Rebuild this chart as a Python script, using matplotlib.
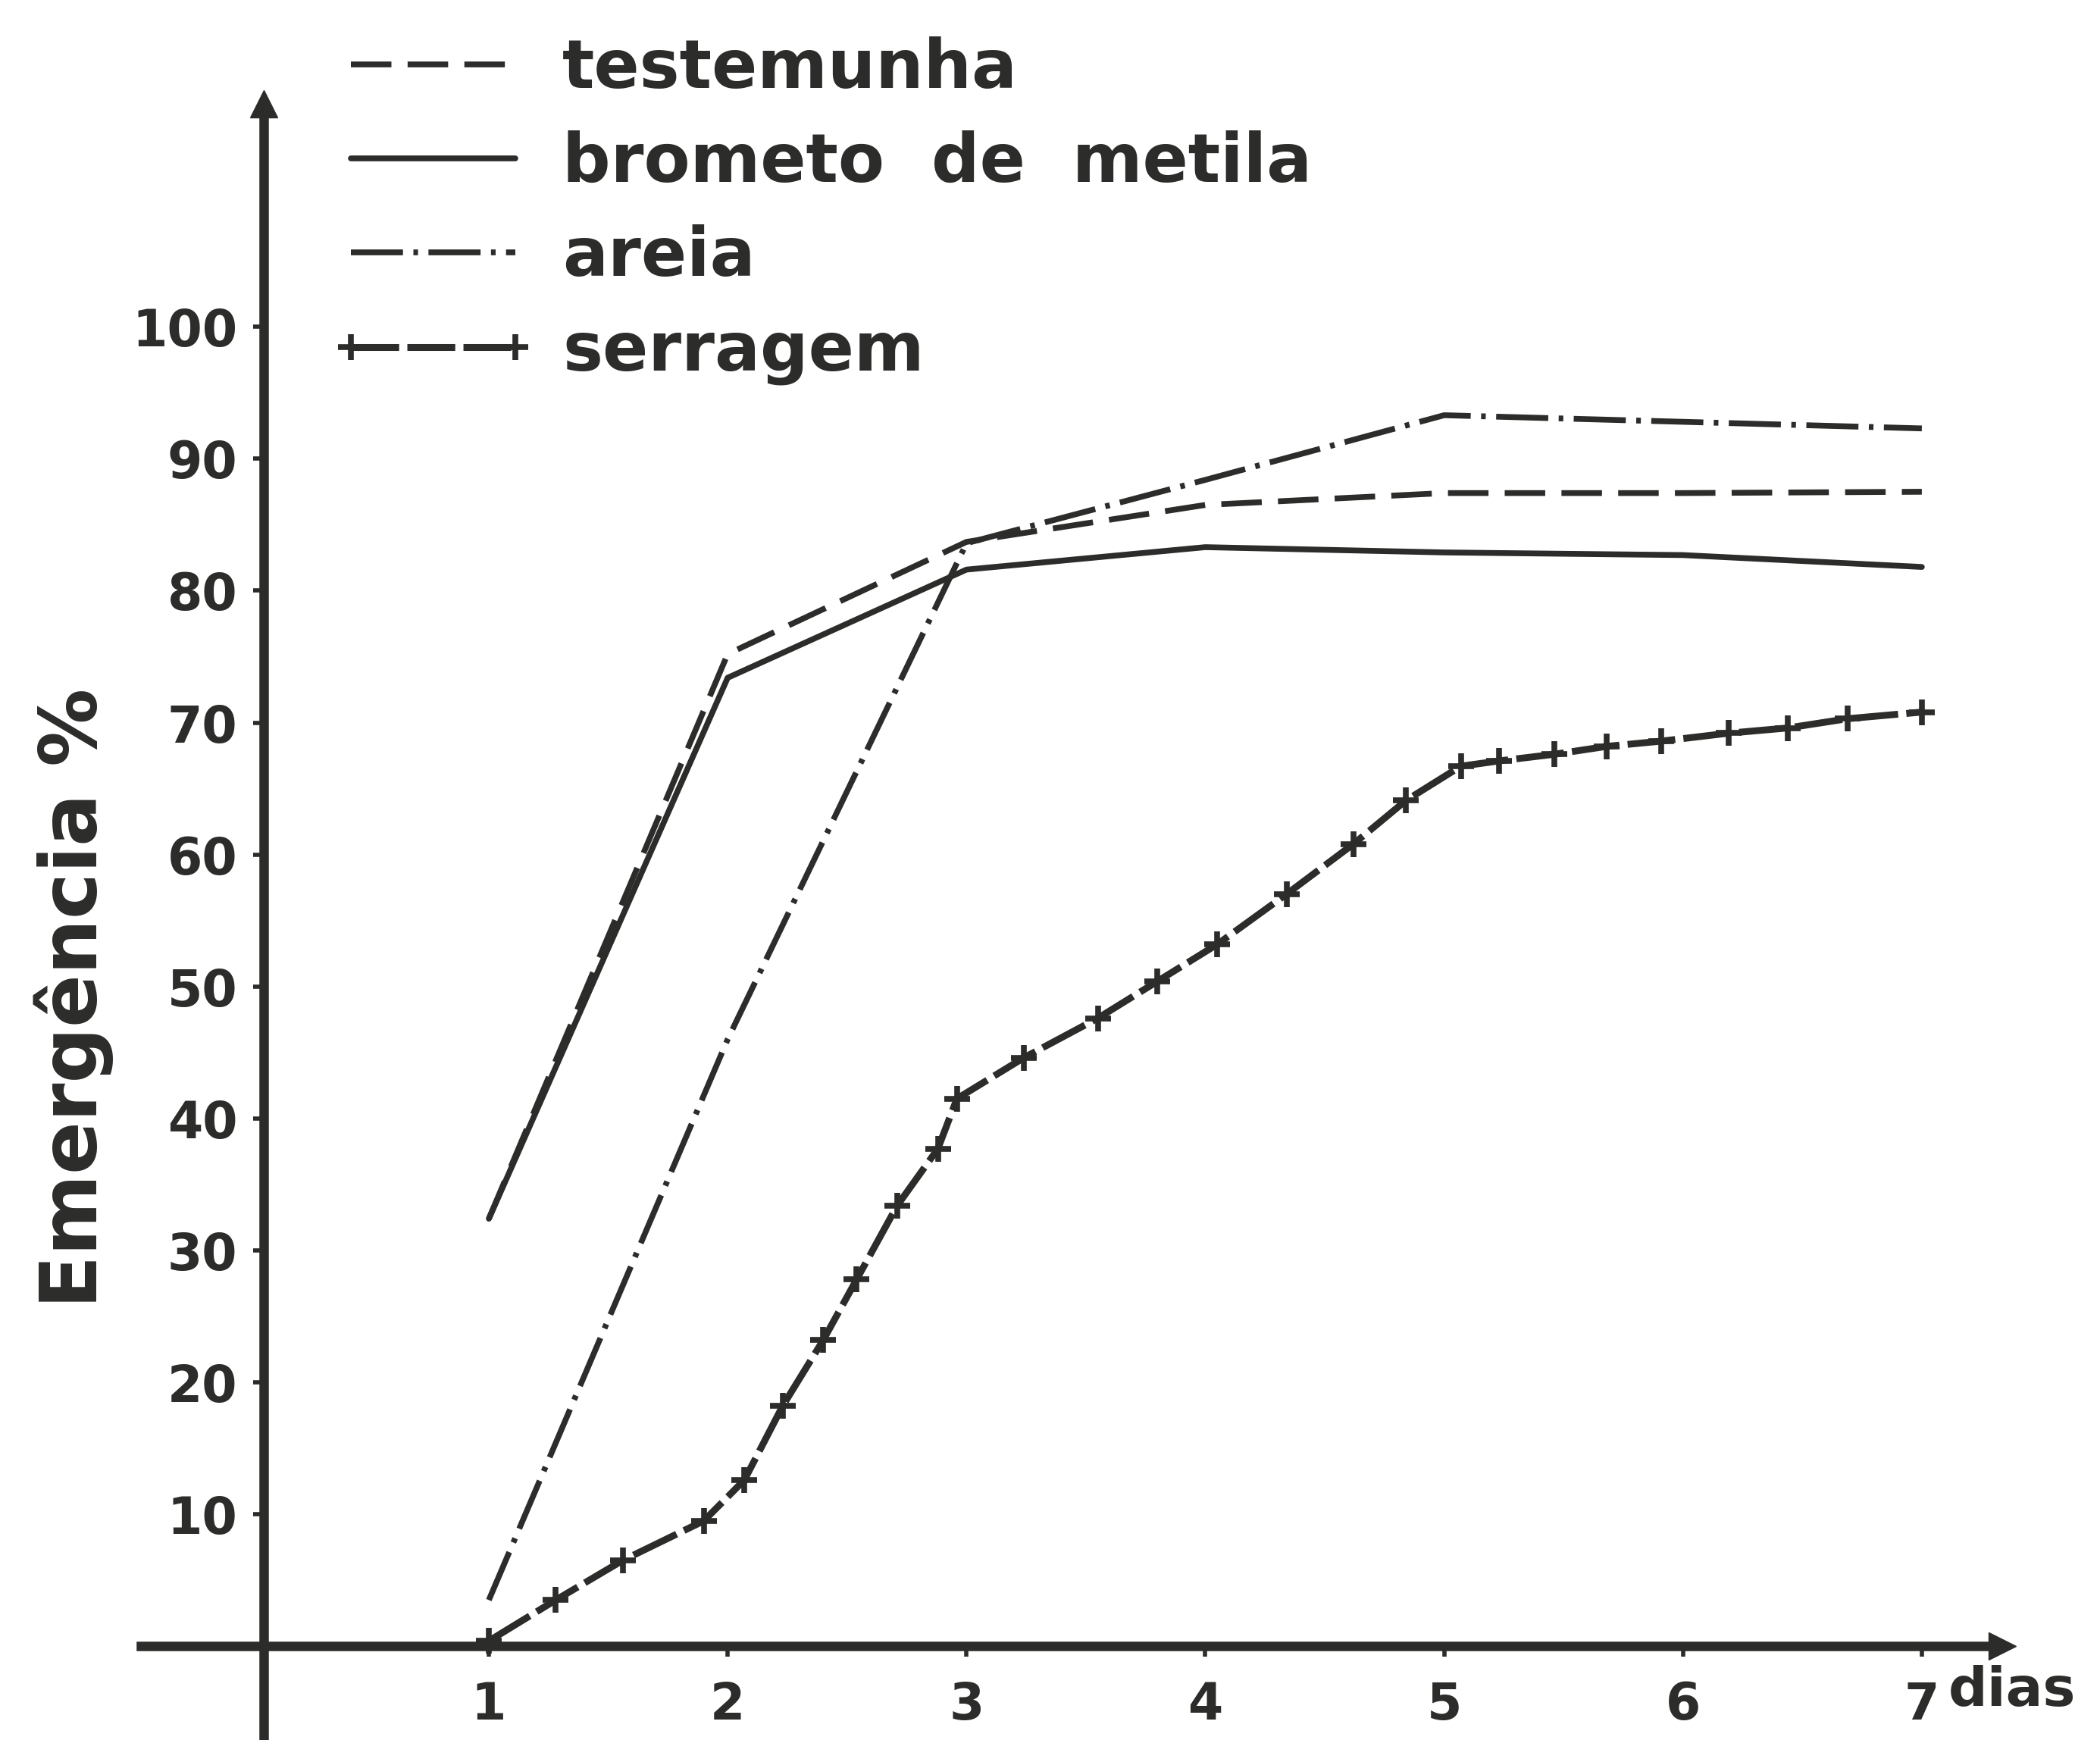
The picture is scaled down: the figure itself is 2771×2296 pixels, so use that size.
import matplotlib
matplotlib.use('Agg')
import matplotlib.pyplot as plt

# ---- data ----
days = [1, 2, 3, 4, 5, 6, 7]
testemunha = [32.4, 75.2, 83.7, 86.5, 87.4, 87.4, 87.5]
brometo = [32.4, 73.4, 81.6, 83.3, 82.9, 82.7, 81.8]
areia = [3.5, 46.0, 83.6, 88.4, 93.3, 92.8, 92.3]
serragem_days = [1.0, 1.28, 1.56, 1.90, 2.07, 2.23, 2.40, 2.54, 2.71, 2.88, 2.96,
                 3.24, 3.55, 3.80, 4.05, 4.34, 4.62, 4.84, 5.07, 5.23, 5.46,
                 5.68, 5.91, 6.19, 6.44, 6.69, 7.0]
serragem = [0.4, 3.5, 6.5, 9.5, 12.6, 18.2, 23.2, 27.8, 33.4, 37.7, 41.5,
            44.6, 47.6, 50.4, 53.2, 57.0, 60.8, 64.1, 66.7, 67.1, 67.6,
            68.2, 68.6, 69.2, 69.6, 70.3, 70.8]
series_labels = ['testemunha', 'brometo  de  metila', 'areia', 'serragem']
yticks = [10, 20, 30, 40, 50, 60, 70, 80, 90, 100]
xtick_labels = ['1', '2', '3', '4', '5', '6', '7']

INK = '#2c2c2a'
plt.rcParams['font.family'] = ['DejaVu Sans']
plt.rcParams['font.weight'] = 'bold'

W, H = 2771, 2296
fig = plt.figure(figsize=(W / 100, H / 100), dpi=100)
fig.patch.set_facecolor('white')
ax = fig.add_axes([0, 0, 1, 1])
ax.set_facecolor('white')
ax.set_xlim(-1.0468, 7.746)
ax.set_ylim(-7.107, 124.77)

LW = 5.5
ax.plot(days, testemunha, color=INK, lw=LW, dashes=(7, 2.8), label=series_labels[0])
ax.plot(days, brometo, color=INK, lw=LW, solid_capstyle='round', label=series_labels[1])
ax.plot(days, areia, color=INK, lw=LW, dashes=(9, 1.8, 0.8, 1.8), label=series_labels[2])
ax.plot(serragem_days, serragem, color=INK, lw=6.5, dashes=(7, 1.2),
        marker='+', ms=24, mew=5.5, label=series_labels[3])

# axes (spines through origin, hand-drawn style)
for s in ['top', 'right']:
    ax.spines[s].set_visible(False)
x_axis_pos = 0.058
ax.spines['left'].set_position(('data', x_axis_pos))
ax.spines['bottom'].set_position(('data', 0))
ax.spines['left'].set_bounds(-7.107, 116.5)
ax.spines['bottom'].set_bounds(-0.458, 7.30)
for s in ['left', 'bottom']:
    ax.spines[s].set_linewidth(9)
    ax.spines[s].set_color(INK)
ax.plot([x_axis_pos], [116.9], marker='^', ms=26, color=INK, clip_on=False)
ax.plot([7.337], [0], marker='>', ms=26, color=INK, clip_on=False)

ax.set_yticks(yticks)
ax.set_yticklabels([str(v) for v in yticks])
ax.set_xticks(days)
ax.set_xticklabels(xtick_labels)
ax.tick_params(axis='y', direction='out', length=10, width=4, pad=15,
               labelsize=48, colors=INK)
ax.tick_params(axis='x', direction='out', length=10, width=4, pad=22,
               labelsize=48, colors=INK)
for lab in ax.get_xticklabels() + ax.get_yticklabels():
    lab.set_fontweight('bold')

ax.text(7.11, -1.4, 'dias', ha='left', va='top', fontsize=52,
        fontweight='bold', color=INK)

ax.set_ylabel('Emergência %', fontsize=74, fontweight='bold', color=INK)
ax.yaxis.set_label_coords(-0.739, 49.1, transform=ax.transData)
ax.yaxis.label.set_va('center')

leg = ax.legend(loc='upper left', bbox_to_anchor=(247 / 1568, 1 - 27 / 1299),
                bbox_transform=fig.transFigure, frameon=False, fontsize=64,
                handlelength=3.04, handletextpad=0.4, labelspacing=0.42,
                borderpad=0, borderaxespad=0, numpoints=2, labelcolor=INK)
for t in leg.get_texts():
    t.set_fontweight('bold')

fig.savefig('out.png', dpi=100, facecolor='white')
